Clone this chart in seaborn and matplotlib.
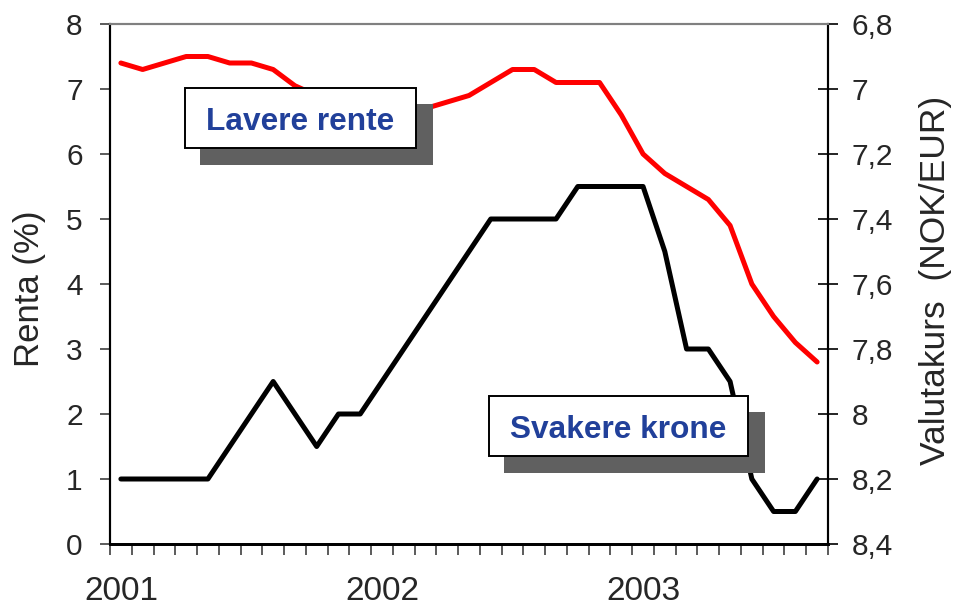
import numpy as np
import matplotlib.pyplot as plt
import seaborn as sns
from matplotlib.patches import Rectangle

# monthly observations, Jan 2001 - Sep 2003
months = np.arange(33)
year_pos = [0, 12, 24]
year_labels = ["2001", "2002", "2003"]

# 3-month interest rate (%), left axis
rente = [7.4, 7.3, 7.4, 7.5, 7.5, 7.4, 7.4, 7.3, 7.05,
         6.9, 6.8, 6.7, 6.7, 6.7, 6.7,
         6.8, 6.9, 7.1, 7.3, 7.3,
         7.1, 7.1, 7.1,
         6.6, 6.0, 5.7, 5.5, 5.3, 4.9, 4.0, 3.5, 3.1, 2.8]

# exchange rate NOK/EUR, right axis (inverted)
kurs = [8.2, 8.2, 8.2, 8.2, 8.2, 8.1, 8.0, 7.9, 8.0, 8.1, 8.0, 8.0,
        7.9, 7.8, 7.7, 7.6, 7.5, 7.4, 7.4, 7.4, 7.4,
        7.3, 7.3, 7.3, 7.3, 7.5, 7.8, 7.8, 7.9, 8.2, 8.3, 8.3, 8.2]

left_ticks = [0, 1, 2, 3, 4, 5, 6, 7, 8]
right_ticks = [6.8, 7.0, 7.2, 7.4, 7.6, 7.8, 8.0, 8.2, 8.4]

W, H = 966, 609
BLUE = "#21409A"
SHADOW = "#606060"

sns.set_style("white")
plt.rcParams["font.family"] = ["Liberation Sans", "DejaVu Sans"]

fig = plt.figure(figsize=(W / 100, H / 100), dpi=100)
ax = fig.add_axes([110 / W, 65 / H, 718 / W, 520 / H])
ax2 = ax.twinx()

sns.lineplot(x=months, y=rente, ax=ax, color="#FF0000", linewidth=3.6,
             solid_capstyle="round")
sns.lineplot(x=months, y=kurs, ax=ax2, color="black", linewidth=3.6,
             solid_capstyle="round")

# left axis
ax.set_xlim(-0.5, 32.5)
ax.set_ylim(0, 8)
ax.set_yticks(left_ticks)
ax.set_yticklabels([str(t) for t in left_ticks])
ax.tick_params(axis="y", direction="out", length=7.2, width=1.2,
               color="#404040", pad=12.5, labelsize=21.5, left=True)

# x axis: years as labels, monthly ticks between categories
ax.set_xticks(year_pos)
ax.set_xticklabels(year_labels)
ax.set_xticks(np.arange(-0.5, 33, 1), minor=True)
ax.tick_params(axis="x", which="major", length=0, pad=23, labelsize=24,
               bottom=True)
ax.tick_params(axis="x", which="minor", direction="out", length=8,
               width=1.2, color="#404040", bottom=True)

# right axis
ax2.set_ylim(8.4, 6.8)
ax2.set_yticks(right_ticks)
ax2.set_yticklabels([f"{t:g}".replace(".", ",") for t in right_ticks])
ax2.tick_params(axis="y", direction="inout", length=14.4, width=1.2,
                color="black", pad=9.7, labelsize=21.5, right=True)

for a in (ax, ax2):
    a.set_xlabel("")
    a.set_ylabel("")
    a.grid(False)
    a.spines["top"].set_color("#808080")
    a.spines["top"].set_linewidth(1.5)
    a.spines["left"].set_color("black")
    a.spines["left"].set_linewidth(1.5)
    a.spines["right"].set_color("black")
    a.spines["right"].set_linewidth(1.5)
    a.spines["bottom"].set_color("black")
    a.spines["bottom"].set_linewidth(2)
ax.patch.set_visible(False)

fig.text(30 / W, 1 - 289 / H, "Renta (%)", rotation=90, ha="center",
         va="center", fontsize=25)
fig.text(935 / W, 1 - 280 / H, "Valutakurs  (NOK/EUR)", rotation=90,
         ha="center", va="center", fontsize=25.5)


def px_rect(x0, y0, x1, y1, **kw):
    return Rectangle((x0 / W, 1 - y1 / H), (x1 - x0) / W, (y1 - y0) / H,
                     transform=fig.transFigure, **kw)


boxes = [("Lavere rente", (185, 88, 416, 148), 130),
         ("Svakere krone", (489, 396, 748, 456), 438)]
for label, (x0, y0, x1, y1), base in boxes:
    fig.add_artist(px_rect(x0 + 15, y0 + 16, x1 + 17, y1 + 17,
                           facecolor=SHADOW, edgecolor="none", zorder=3))
    fig.add_artist(px_rect(x0, y0, x1, y1, facecolor="white",
                           edgecolor="black", linewidth=1.4, zorder=4))
    fig.text((x0 + x1) / 2 / W, 1 - base / H, label, ha="center",
             va="baseline", fontsize=22.8, fontweight="bold", color=BLUE,
             zorder=5)

fig.savefig("out.png", dpi=100)
